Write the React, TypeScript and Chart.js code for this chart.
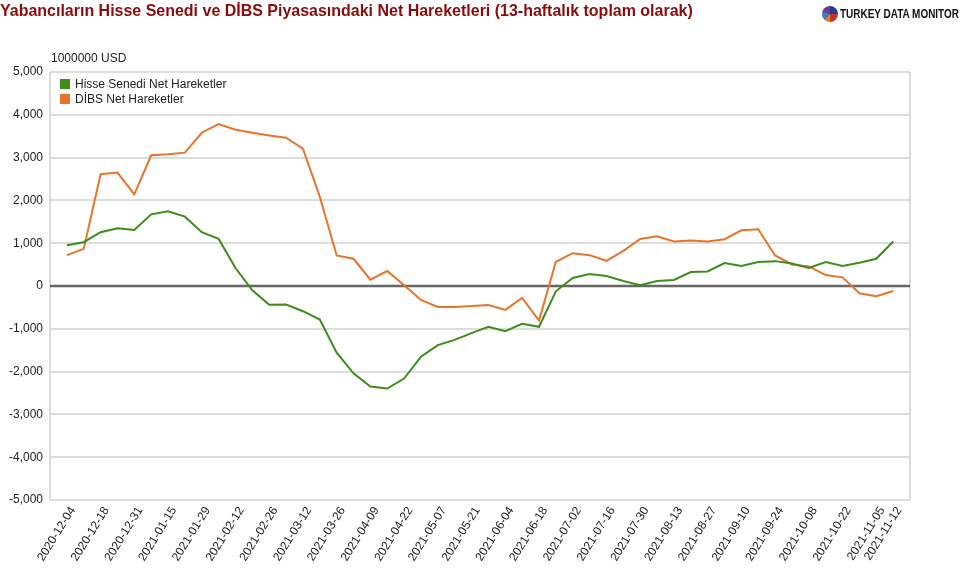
import React, { useEffect, useRef } from "react";
import { Chart, registerables } from "chart.js";

Chart.register(...registerables);

const dates = [
  "2020-12-04", "2020-12-11", "2020-12-18", "2020-12-25", "2020-12-31", "2021-01-08",
  "2021-01-15", "2021-01-22", "2021-01-29", "2021-02-05", "2021-02-12", "2021-02-19",
  "2021-02-26", "2021-03-05", "2021-03-12", "2021-03-19", "2021-03-26", "2021-04-02",
  "2021-04-09", "2021-04-16", "2021-04-22", "2021-04-30", "2021-05-07", "2021-05-14",
  "2021-05-21", "2021-05-28", "2021-06-04", "2021-06-11", "2021-06-18", "2021-06-25",
  "2021-07-02", "2021-07-09", "2021-07-16", "2021-07-23", "2021-07-30", "2021-08-06",
  "2021-08-13", "2021-08-20", "2021-08-27", "2021-09-03", "2021-09-10", "2021-09-17",
  "2021-09-24", "2021-10-01", "2021-10-08", "2021-10-15", "2021-10-22", "2021-10-29",
  "2021-11-05", "2021-11-12",
];

const shownDateIndex = [0, 2, 4, 6, 8, 10, 12, 14, 16, 18, 20, 22, 24, 26, 28, 30, 32, 34, 36, 38, 40, 42, 44, 46, 48, 49];

const hisseSenedi = [
  953, 1023, 1256, 1349, 1310, 1674, 1744, 1620, 1256, 1101, 419, -101, -438, -434, -589, -783,
  -1558, -2039, -2349, -2395, -2163, -1651, -1380, -1260, -1101, -953, -1054, -884, -953, -124,
  186, 279, 233, 115, 20, 116, 140, 326, 341, 535, 465, 558, 581, 527, 419, 558, 465, 543, 636, 1039,
];

const dibs = [
  721, 868, 2612, 2651, 2140, 3054, 3078, 3116, 3581, 3783, 3651, 3580, 3519, 3465, 3209, 2085,
  713, 636, 147, 349, 16, -326, -488, -488, -470, -442, -558, -279, -806, 566, 767, 721, 589, 820,
  1097, 1163, 1039, 1062, 1039, 1093, 1302, 1326, 713, 504, 457, 256, 202, -171, -240, -116,
];

const yTicks = [-5000, -4000, -3000, -2000, -1000, 0, 1000, 2000, 3000, 4000, 5000];

const seriesNames = ["Hisse Senedi Net Hareketler", "DİBS Net Hareketler"];
const GREEN = "#3e8c1c";
const ORANGE = "#e8742a";
const FONT = "Arial, 'Liberation Sans', sans-serif";

const frameAndLegend = {
  id: "frameAndLegend",
  beforeDatasetsDraw(chart: any) {
    const { ctx, chartArea } = chart;
    ctx.save();
    ctx.strokeStyle = "#dddddd";
    ctx.lineWidth = 2;
    ctx.beginPath();
    ctx.moveTo(chartArea.left, chartArea.top);
    ctx.lineTo(chartArea.left, chartArea.bottom);
    ctx.moveTo(chartArea.right, chartArea.top);
    ctx.lineTo(chartArea.right, chartArea.bottom);
    ctx.stroke();
    const y0 = chart.scales.y.getPixelForValue(0);
    ctx.strokeStyle = "#666666";
    ctx.lineWidth = 2.5;
    ctx.beginPath();
    ctx.moveTo(chartArea.left, y0);
    ctx.lineTo(chartArea.right, y0);
    ctx.stroke();
    ctx.restore();
  },
  afterDraw(chart: any) {
    const { ctx, chartArea } = chart;
    ctx.save();
    ctx.font = "12px " + FONT;
    ctx.textBaseline = "middle";
    chart.data.datasets.forEach((ds: any, i: number) => {
      const x = chartArea.left + 10;
      const y = chartArea.top + 12 + i * 15;
      ctx.fillStyle = ds.borderColor;
      ctx.fillRect(x, y - 5, 10, 10);
      ctx.fillStyle = "#222222";
      ctx.fillText(ds.label, x + 15, y + 0.5);
    });
    // rotated date labels
    const xs = chart.scales.x;
    const angle = (-58 * Math.PI) / 180;
    ctx.fillStyle = "#222222";
    ctx.textAlign = "right";
    ctx.textBaseline = "middle";
    shownDateIndex.forEach((idx) => {
      const px = xs.getPixelForValue(idx);
      ctx.save();
      ctx.translate(px + 6, chartArea.bottom + 8);
      ctx.rotate(angle);
      ctx.fillText(dates[idx], 0, 0);
      ctx.restore();
    });
    ctx.restore();
  },
};

export default function App() {
  const ref = useRef<HTMLCanvasElement | null>(null);

  useEffect(() => {
    if (!ref.current) return;
    const chart = new Chart(ref.current, {
      type: "line",
      data: {
        datasets: [
          {
            label: seriesNames[0],
            data: hisseSenedi.map((v, i) => ({ x: i, y: v })),
            borderColor: GREEN,
            backgroundColor: GREEN,
            borderWidth: 2,
            pointRadius: 0,
            tension: 0,
          },
          {
            label: seriesNames[1],
            data: dibs.map((v, i) => ({ x: i, y: v })),
            borderColor: ORANGE,
            backgroundColor: ORANGE,
            borderWidth: 2,
            pointRadius: 0,
            tension: 0,
          },
        ],
      },
      options: {
        animation: false,
        responsive: false,
        maintainAspectRatio: false,
        layout: { padding: { top: 72, right: 60, left: 0, bottom: 0 } },
        plugins: {
          legend: { display: false },
          tooltip: { enabled: false },
          title: { display: false },
        },
        scales: {
          x: {
            type: "linear",
            min: -1,
            max: 50,
            afterBuildTicks: (scale: any) => {
              scale.ticks = shownDateIndex.map((v) => ({ value: v }));
            },
            afterFit: (scale: any) => {
              scale.height = 70;
            },
            grid: { display: false, drawTicks: false },
            border: { display: false },
            ticks: { display: false },
          },
          y: {
            min: -5000,
            max: 5000,
            afterBuildTicks: (scale: any) => {
              scale.ticks = yTicks.map((v) => ({ value: v }));
            },
            afterFit: (scale: any) => {
              scale.width = 50;
            },
            grid: {
              color: "#dddddd",
              lineWidth: 2,
              drawTicks: false,
            },
            border: { display: false },
            ticks: {
              padding: 7,
              color: "#222222",
              font: { family: FONT, size: 12 },
              callback: (v: any) => Number(v).toLocaleString("en-US"),
            },
          },
        },
      },
      plugins: [frameAndLegend],
    });
    return () => chart.destroy();
  }, []);

  return (
    <div style={{ position: "fixed", left: 0, top: 0, width: 970, height: 570, background: "#fff", overflow: "hidden" }}>
      <canvas ref={ref} width={970} height={570} style={{ position: "absolute", left: 0, top: 0, width: 970, height: 570 }} />
      <div
        style={{
          position: "absolute",
          left: 0,
          top: 0,
          fontFamily: FONT,
          fontWeight: "bold",
          fontSize: 17,
          lineHeight: "22px",
          color: "#8b0a0a",
          whiteSpace: "nowrap",
          transform: "scaleX(0.94)",
          transformOrigin: "0 0",
        }}
      >
        Yabancıların Hisse Senedi ve DİBS Piyasasındaki Net Hareketleri (13-haftalık toplam olarak)
      </div>
      <div style={{ position: "absolute", left: 822, top: 6, display: "flex", alignItems: "center" }}>
        <div
          style={{
            width: 16,
            height: 16,
            borderRadius: "50%",
            background: "conic-gradient(#2b3a8c 0 25%, #c0392b 25% 50%, #e67e22 50% 62%, #3a7dc0 62% 80%, #6b3a8c 80% 100%)",
          }}
        />
        <div
          style={{
            marginLeft: 2,
            fontFamily: FONT,
            fontWeight: "bold",
            fontSize: 12,
            color: "#111",
            whiteSpace: "nowrap",
            transform: "scaleX(0.83)",
            transformOrigin: "0 50%",
          }}
        >
          TURKEY DATA MONITOR
        </div>
      </div>
      <div
        style={{
          position: "absolute",
          left: 51,
          top: 51,
          fontFamily: FONT,
          fontSize: 12,
          color: "#222",
          whiteSpace: "nowrap",
        }}
      >
        1000000 USD
      </div>
    </div>
  );
}
